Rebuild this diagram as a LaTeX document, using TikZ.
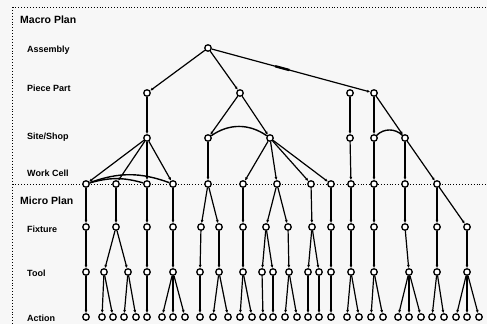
\documentclass[tikz,border=0pt]{standalone}
\usepackage{fontspec}
\setmainfont{Liberation Sans}
\usetikzlibrary{arrows.meta}
\definecolor{bg}{HTML}{F7F7F7}
\begin{document}
\begin{tikzpicture}[x=1pt,y=-1pt,
  nd/.style={circle,draw,line width=1.3pt,fill=white,inner sep=0pt,minimum size=6.5pt},
  ed/.style={line width=1.2pt,-{Latex[length=3.2pt,width=3pt]}},
  arc/.style={line width=1.4pt},
  lvl/.style={anchor=west,font=\bfseries\fontsize{9}{10}\selectfont,inner sep=0pt},
  ttl/.style={anchor=west,font=\bfseries\fontsize{10.5}{12}\selectfont,inner sep=0pt},
  frm/.style={dotted,line width=0.9pt}]
\fill[bg] (0,0) rectangle (487,324);
\useasboundingbox (0,0) rectangle (487,324);
% frame and divider
\draw[frm] (12.5,7) -- (487,7);
\draw[frm] (12.5,7) -- (12.5,324);
\draw[frm] (12.5,184) -- (487,184);
% labels
\node[ttl] (lmacro) at (20,20) {Macro Plan};
\node[lvl] (lasm) at (27,50) {Assembly};
\node[lvl] (lpp) at (27,88) {Piece Part};
\node[lvl] (lss) at (27,137) {Site/Shop};
\node[lvl] (lwc) at (27,173) {Work Cell};
\node[ttl] (lmicro) at (20,201) {Micro Plan};
\node[lvl] (lfix) at (27,229) {Fixture};
\node[lvl] (ltool) at (27,273) {Tool};
\node[lvl] (lact) at (27,318) {Action};
% nodes
\node[nd] (a208) at (208,48) {};
\foreach \x in {147,240,350,374} \node[nd] (p\x) at (\x,93) {};
\foreach \x in {147,208,270,350,374,405} \node[nd] (s\x) at (\x,138) {};
\foreach \x in {86,116,147,173,208,243,277,311,331,351,374,405,437} \node[nd] (w\x) at (\x,184) {};
\foreach \x in {86,116,147,173,201,219,243,266,288,312,331,351,374,405,437,467} \node[nd] (f\x) at (\x,227) {};
\foreach \x in {86,104,128,147,173,200,219,243,262,273,289,308,319,331,351,374,409,437,467} \node[nd] (t\x) at (\x,272) {};
\foreach \x in {86,102,113,124,136,147,162,173,185,200,213,228,240,252,263,273,285,297,308,319,331,347,359,371,383,398,409,421,432,444,456,467,479} \node[nd] (c\x) at (\x,317) {};
% edges
\foreach \a/\b in {a208/p147,a208/p240,a208/p374,
  p147/s147,p240/s208,p240/s270,p350/s350,p374/s374,p374/s405,
  s147/w86,s147/w116,s147/w147,s147/w173,s208/w208,
  s270/w243,s270/w277,s270/w311,s270/w331,s350/w351,s374/w374,s405/w405,s405/w437,
  w86/f86,w116/f116,w147/f147,w173/f173,w208/f201,w208/f219,w243/f243,
  w277/f266,w277/f288,w311/f312,w331/f331,w351/f351,w374/f374,w405/f405,w437/f437,w437/f467,
  f86/t86,f116/t104,f116/t128,f147/t147,f173/t173,f201/t200,f219/t219,f243/t243,
  f266/t262,f266/t273,f288/t289,f312/t308,f312/t319,f331/t331,f351/t351,f374/t374,
  f405/t409,f437/t437,f467/t467,
  t86/c86,t104/c102,t104/c113,t128/c124,t128/c136,t147/c147,t173/c162,t173/c173,t173/c185,
  t200/c200,t219/c213,t219/c228,t243/c240,t243/c252,t262/c263,t273/c273,t289/c285,t289/c297,
  t308/c308,t319/c319,t331/c331,t351/c347,t351/c359,t374/c371,t374/c383,
  t409/c398,t409/c409,t409/c421,t437/c432,t437/c444,t467/c456,t467/c467,t467/c479}
  \draw[ed] (\a) -- (\b);
% mark on long edge
\path (a208) -- (p374) coordinate[pos=0.40] (m1) coordinate[pos=0.49] (m2);
\draw[line width=2.4pt] (m1) -- (m2);
% arcs
\draw[arc] (s208) to[bend left=35] (s270);
\draw[arc] (s374) to[bend left=45] (s405);
\draw[arc] (w86) to[bend left=20] (w173);
\draw[arc] (w86) to[bend left=16] (w147);
\end{tikzpicture}
\end{document}
